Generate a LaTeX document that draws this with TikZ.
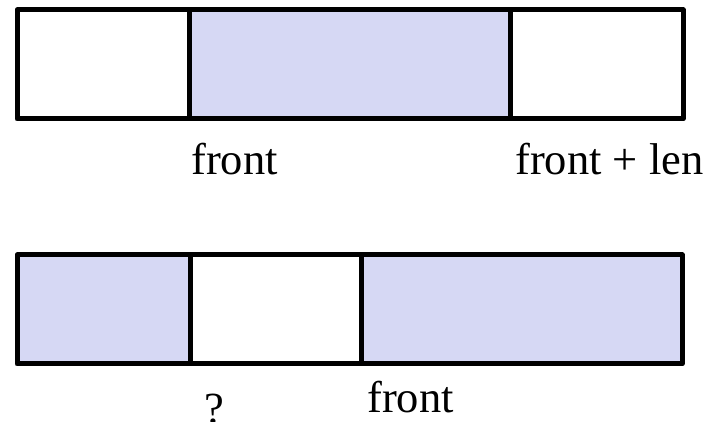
\documentclass[tikz,border=0pt]{standalone}
\usepackage{fontspec}
\setmainfont{Liberation Serif}
\definecolor{lav}{RGB}{214,216,244}
\begin{document}
\begin{tikzpicture}[x=1pt,y=-1pt,
  cell/.style={draw=black, line width=5pt, line join=round, inner sep=0pt, outer sep=0pt, minimum height=109pt},
  lbl/.style={anchor=base west, inner sep=0pt, font=\fontsize{44.5}{50}\selectfont}]
\useasboundingbox (0,0) rectangle (713,422);
% top bar
\node[cell, fill=white, minimum width=172pt] (t1) at (103,64.5) {};
\node[cell, fill=lav, minimum width=321pt] (t2) at (349.5,64.5) {};
\node[cell, fill=white, minimum width=173pt] (t3) at (596.5,64.5) {};
% bottom bar
\node[cell, fill=lav, minimum width=173pt] (b1) at (103.5,309.5) {};
\node[cell, fill=white, minimum width=171pt] (b2) at (275.5,309.5) {};
\node[cell, fill=lav, minimum width=321pt] (b3) at (521.5,309.5) {};
% labels
\node[lbl] (lf1) at (191,175) {front};
\node[lbl] (lf2) at (515,175) {front + len};
\node[lbl] (lq) at (204,424) {?};
\node[lbl] (lf3) at (367,412) {front};
\end{tikzpicture}
\end{document}
